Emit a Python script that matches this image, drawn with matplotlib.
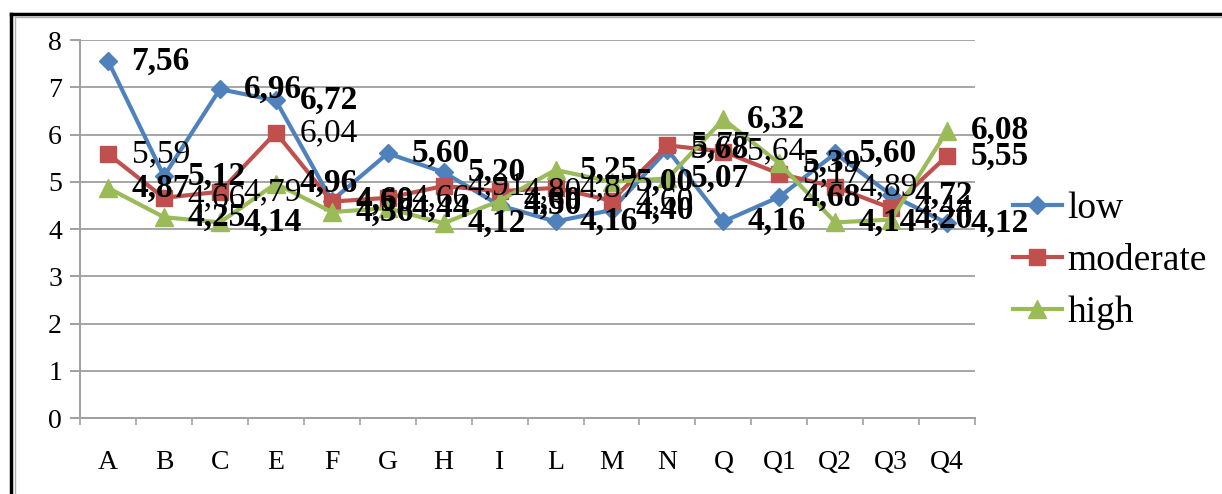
import matplotlib
matplotlib.use("Agg")
import matplotlib.pyplot as plt
from matplotlib.lines import Line2D
import numpy as np

plt.rcParams["font.family"] = ["Liberation Serif", "DejaVu Serif"]

# Data
categories = ["A", "B", "C", "E", "F", "G", "H", "I", "L", "M", "N", "Q", "Q1", "Q2", "Q3", "Q4"]
low = [7.56, 5.12, 6.96, 6.72, 4.60, 5.60, 5.20, 4.50, 4.16, 4.40, 5.68, 4.16, 4.68, 5.60, 4.72, 4.12]
moderate = [5.59, 4.66, 4.79, 6.04, 4.58, 4.66, 4.91, 4.80, 4.87, 4.60, 5.77, 5.64, 5.17, 4.89, 4.44, 5.55]
high = [4.87, 4.25, 4.14, 4.96, 4.36, 4.44, 4.12, 4.60, 5.25, 5.00, 5.07, 6.32, 5.39, 4.14, 4.20, 6.08]
yticks = [0, 1, 2, 3, 4, 5, 6, 7, 8]

series = [
    ("low", low, "#4F81BD", "D", 9.5, "bold"),
    ("moderate", moderate, "#C0504D", "s", 12, "normal"),
    ("high", high, "#9BBB59", "^", 13, "bold"),
]

fig = plt.figure(figsize=(12.22, 4.94), dpi=100)
ax = fig.add_axes([0.0655, 0.1538, 0.7325, 0.7652])

x = np.arange(len(categories))
for name, vals, color, marker, ms, weight in series:
    ax.plot(x, vals, color=color, lw=3, marker=marker, ms=ms, label=name,
            markeredgecolor=color, zorder=3)

# data labels, drawn after the lines so they sit on top
for name, vals, color, marker, ms, weight in series:
    for i, v in enumerate(vals):
        w = weight
        if name == "moderate" and i == len(vals) - 1:
            w = "bold"
        ax.annotate(f"{v:.2f}".replace(".", ","), (x[i], v), xytext=(17, 0),
                    textcoords="offset points", ha="left", va="center",
                    fontsize=24, fontweight=w, color="black", zorder=4)

ax.set_xlim(-0.5, len(categories) - 0.5)
ax.set_ylim(0, 8)
ax.set_yticks(yticks)
ax.set_xticks(x)
ax.set_xticklabels(categories)
ax.set_xticks(np.arange(len(categories) + 1) - 0.5, minor=True)

ax.grid(axis="y", color="#A6A6A6", lw=1.4, zorder=0)
ax.set_axisbelow(True)
for s in ["top", "right"]:
    ax.spines[s].set_visible(False)
for s in ["left", "bottom"]:
    ax.spines[s].set_color("#A0A0A0")
    ax.spines[s].set_linewidth(1.4)

ax.tick_params(axis="y", length=7, width=1.4, color="#A0A0A0", pad=6, labelsize=20)
ax.tick_params(axis="x", which="major", length=0, pad=23, labelsize=20)
ax.tick_params(axis="x", which="minor", length=5, width=1.2, color="#A0A0A0")

handles = [Line2D([], [], color=c, lw=3, marker=m, ms=ms, markeredgecolor=c)
           for _, _, c, m, ms, _ in series]
fig.legend(handles, [s[0] for s in series], loc="upper left",
           bbox_to_anchor=(0.829, 0.612), frameon=False, fontsize=27,
           handlelength=1.3, handletextpad=0.15, labelspacing=0.46,
           borderpad=0, borderaxespad=0)

# outer chart frame (only left and top edges are visible in the reference)
fig.add_artist(Line2D([0.009, 0.009], [0, 0.972], transform=fig.transFigure,
                      color="black", lw=2.5))
fig.add_artist(Line2D([0.009, 1], [0.972, 0.972], transform=fig.transFigure,
                      color="black", lw=2.5))
fig.add_artist(Line2D([0.0125, 0.0125], [0, 0.966], transform=fig.transFigure,
                      color="#B0B0B0", lw=1))
fig.add_artist(Line2D([0.0125, 1], [0.966, 0.966], transform=fig.transFigure,
                      color="#B0B0B0", lw=1))

fig.savefig("out.png", dpi=100)
